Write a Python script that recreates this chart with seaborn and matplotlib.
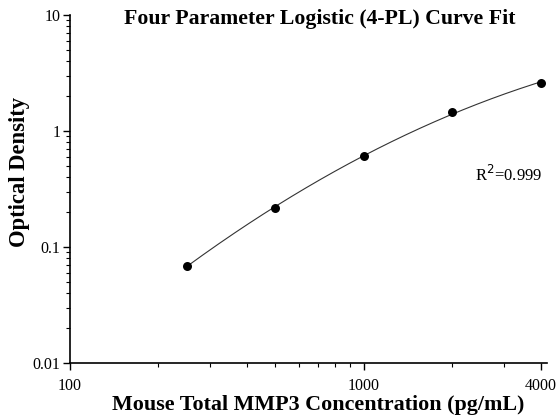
import numpy as np
import pandas as pd
import matplotlib
matplotlib.use("Agg")
import matplotlib.pyplot as plt
import matplotlib.ticker as mticker
import seaborn as sns

# standard curve readings
concentration = [250, 500, 1000, 2000, 4000]
optical_density = [0.069, 0.217, 0.61, 1.45, 2.61]
x_ticks = [100, 1000, 4000]
y_ticks = [0.01, 0.1, 1, 10]

sns.set_theme(style="ticks")
plt.rcParams['font.family'] = ['Liberation Serif', 'DejaVu Serif']
plt.rcParams['text.color'] = 'black'
plt.rcParams['axes.labelcolor'] = 'black'
plt.rcParams['xtick.color'] = 'black'
plt.rcParams['ytick.color'] = 'black'

df = pd.DataFrame({'conc': concentration, 'od': optical_density})

# smooth fit in log-log space for the curve
coef = np.polyfit(np.log10(df['conc']), np.log10(df['od']), 2)
xs = np.logspace(np.log10(df['conc'].min()), np.log10(df['conc'].max()), 200)
fit = pd.DataFrame({'conc': xs, 'od': 10 ** np.polyval(coef, np.log10(xs))})

fig = plt.figure(figsize=(5.6, 4.19), dpi=100)
ax = fig.add_axes([0.125, 0.134, 0.852, 0.83])

sns.lineplot(data=fit, x='conc', y='od', ax=ax, color='#333333', linewidth=0.8)
sns.scatterplot(data=df, x='conc', y='od', ax=ax, color='black', s=42,
                edgecolor='black', linewidth=0, zorder=3)

ax.set_xscale('log')
ax.set_yscale('log')
ax.set_xlim(100, 4200)
ax.set_ylim(0.01, 10)

ax.xaxis.set_major_locator(mticker.FixedLocator(x_ticks))
ax.xaxis.set_major_formatter(mticker.FixedFormatter([str(t) for t in x_ticks]))
ax.xaxis.set_minor_locator(mticker.FixedLocator([200, 300, 400, 500, 600, 700, 800, 900, 2000, 3000]))
ax.xaxis.set_minor_formatter(mticker.NullFormatter())
ax.yaxis.set_major_locator(mticker.FixedLocator(y_ticks))
ax.yaxis.set_major_formatter(mticker.FixedFormatter(['0.01', '0.1', '1', '10']))
ax.yaxis.set_minor_locator(mticker.LogLocator(base=10, subs=np.arange(2, 10)))
ax.yaxis.set_minor_formatter(mticker.NullFormatter())

ax.tick_params(axis='both', which='major', direction='out', length=5, width=1,
               labelsize=11.5, colors='black', pad=2)
ax.tick_params(axis='x', which='major', pad=6)
ax.tick_params(axis='both', which='minor', direction='out', length=3, width=0.8, colors='black')
ax.set_xlabel(None)
ax.set_ylabel(None)
sns.despine(ax=ax)
for s in ['left', 'bottom']:
    ax.spines[s].set_color('black')
    ax.spines[s].set_linewidth(1.2)

fig.text(320 / 560, 1 - 19 / 419, 'Four Parameter Logistic (4-PL) Curve Fit',
         ha='center', va='center', fontsize=15.7, fontweight='bold')
fig.text(318 / 560, 1 - 405 / 419, 'Mouse Total MMP3 Concentration (pg/mL)',
         ha='center', va='center', fontsize=15.8, fontweight='bold')
fig.text(20 / 560, 1 - 172 / 419, 'Optical Density', rotation=90,
         ha='center', va='center', fontsize=16.3, fontweight='bold')
fig.text(542 / 560, 1 - 175 / 419, 'R$^2$=0.999', ha='right', va='center', fontsize=12)

fig.savefig('out.png', dpi=100)
